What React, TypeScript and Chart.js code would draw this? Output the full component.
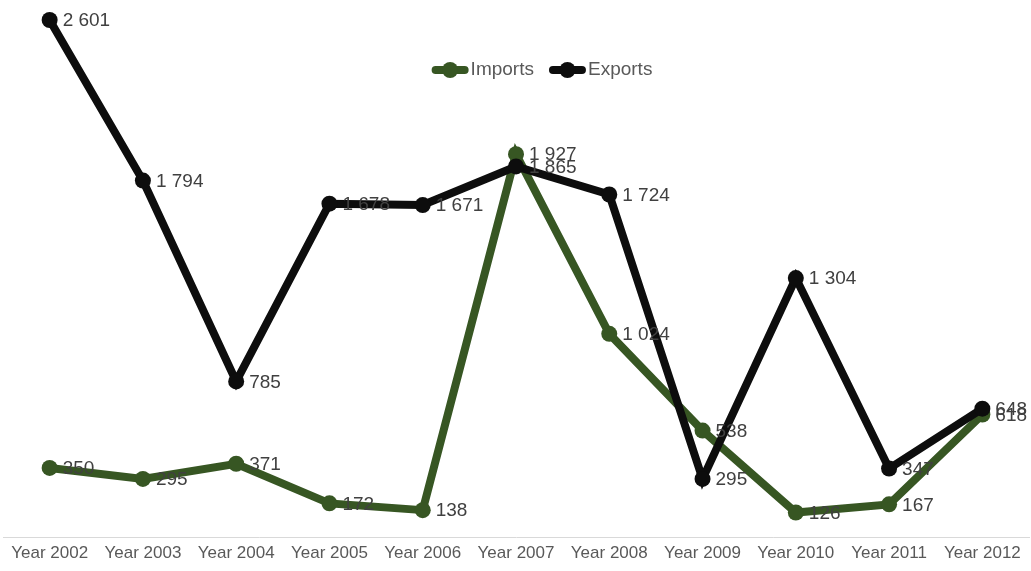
import React, { useEffect, useRef } from "react";
import { Chart, registerables } from "chart.js";

Chart.register(...registerables);

const years = ["Year 2002", "Year 2003", "Year 2004", "Year 2005", "Year 2006", "Year 2007", "Year 2008", "Year 2009", "Year 2010", "Year 2011", "Year 2012"];
const imports = [350, 295, 371, 172, 138, 1927, 1024, 538, 126, 167, 618];
const exports_ = [2601, 1794, 785, 1678, 1671, 1865, 1724, 295, 1304, 347, 648];

const GREEN = "#375623";
const BLACK = "#0d0d0d";
const FONT = "'Liberation Sans', Arial, sans-serif";

const fmt = (v: number) => {
  const s = String(Math.round(v));
  return s.replace(/\B(?=(\d{3})+(?!\d))/g, " ");
};

const labelPlugin = {
  id: "pointLabels",
  afterDatasetsDraw(chart: any) {
    const ctx = chart.ctx;
    ctx.save();
    ctx.font = `19px ${FONT}`;
    ctx.fillStyle = "#404040";
    ctx.textAlign = "left";
    ctx.textBaseline = "middle";
    chart.data.datasets.forEach((ds: any, i: number) => {
      const meta = chart.getDatasetMeta(i);
      meta.data.forEach((pt: any, j: number) => {
        ctx.fillText(fmt(ds.data[j]), pt.x + 13, pt.y + 1);
      });
    });
    ctx.restore();
  },
};

const legendPlugin = {
  id: "customLegend",
  afterDraw(chart: any) {
    const ctx = chart.ctx;
    ctx.save();
    ctx.font = `19px ${FONT}`;
    ctx.textBaseline = "middle";
    ctx.textAlign = "left";
    const items = chart.data.datasets.map((d: any) => ({ label: d.label, color: d.borderColor }));
    const markerW = 37;
    const gapText = 2;
    const gapItem = 15;
    const widths = items.map((it: any) => markerW + gapText + ctx.measureText(it.label).width);
    const total = widths.reduce((a: number, b: number) => a + b, 0) + gapItem * (items.length - 1);
    let x = 542 - total / 2;
    const y = 70;
    items.forEach((it: any, i: number) => {
      ctx.strokeStyle = it.color;
      ctx.lineWidth = 8;
      ctx.lineCap = "round";
      ctx.beginPath();
      ctx.moveTo(x + 4, y);
      ctx.lineTo(x + markerW - 4, y);
      ctx.stroke();
      ctx.fillStyle = it.color;
      ctx.beginPath();
      ctx.arc(x + markerW / 2, y, 8, 0, Math.PI * 2);
      ctx.fill();
      ctx.fillStyle = "#595959";
      ctx.fillText(it.label, x + markerW + gapText, y);
      x += widths[i] + gapItem;
    });
    ctx.restore();
  },
};

export default function App() {
  const ref = useRef<HTMLCanvasElement | null>(null);
  useEffect(() => {
    document.body.style.margin = "0";
    if (!ref.current) return;
    const chart = new Chart(ref.current, {
      type: "line",
      data: {
        labels: years,
        datasets: [
          {
            label: "Imports",
            data: imports,
            borderColor: GREEN,
            backgroundColor: GREEN,
            borderWidth: 8,
            pointRadius: 8,
            pointBackgroundColor: GREEN,
            pointBorderWidth: 0,
            tension: 0,
            clip: false,
            order: 2,
          },
          {
            label: "Exports",
            data: exports_,
            borderColor: BLACK,
            backgroundColor: BLACK,
            borderWidth: 8,
            pointRadius: 8,
            pointBackgroundColor: BLACK,
            pointBorderWidth: 0,
            tension: 0,
            clip: false,
            order: 1,
          },
        ],
      },
      options: {
        animation: false,
        responsive: false,
        maintainAspectRatio: false,
        layout: { autoPadding: false, padding: { left: 3, right: 2, top: 20, bottom: 1 } },
        plugins: {
          legend: { display: false },
          tooltip: { enabled: false },
        },
        scales: {
          x: {
            offset: true,
            grid: { display: false, drawTicks: false },
            border: { display: true, color: "#d9d9d9", width: 1 },
            ticks: {
              color: "#595959",
              font: { family: FONT, size: 17 },
              padding: 6,
              maxRotation: 0,
              autoSkip: false,
            },
            afterFit(scale: any) {
              scale.paddingLeft = 0;
              scale.paddingRight = 0;
            },
          },
          y: {
            display: false,
            min: 0,
            max: 2601,
          },
        },
      },
      plugins: [labelPlugin, legendPlugin],
    });
    return () => chart.destroy();
  }, []);
  return (
    <div style={{ position: "absolute", left: 0, top: 0, width: 1031, height: 571 }}>
      <canvas ref={ref} width={1031} height={571} style={{ width: 1031, height: 571 }} />
    </div>
  );
}
